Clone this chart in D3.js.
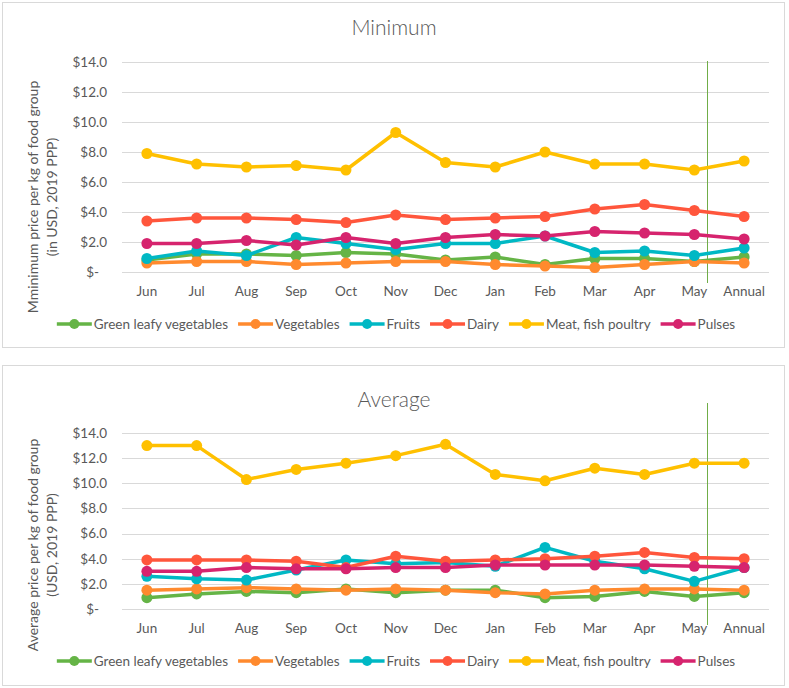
<!DOCTYPE html>
<html>
<head>
<meta charset="utf-8">
<script src="https://cdn.jsdelivr.net/npm/d3@7/dist/d3.min.js"></script>
<style>
  html, body { margin: 0; padding: 0; background: #fff; }
  svg { display: block; font-family: Lato, "Open Sans", sans-serif; }
</style>
</head>
<body>
<svg id="chart" width="789" height="688"></svg>
<script>
const months = ["Jun","Jul","Aug","Sep","Oct","Nov","Dec","Jan","Feb","Mar","Apr","May","Annual"];
const seriesNames = ["Green leafy vegetables","Vegetables","Fruits","Dairy","Meat, fish poultry","Pulses"];
const seriesColors = ["#65B446","#FF8A2E","#00B8C4","#FF563C","#FFC000","#D6246E"];
const yTicks = [0,2,4,6,8,10,12,14];

// Minimum prices
const minGreen  = [0.8,1.2,1.2,1.1,1.3,1.2,0.8,1.0,0.5,0.9,0.9,0.7,1.0];
const minVeg    = [0.6,0.7,0.7,0.5,0.6,0.7,0.7,0.5,0.4,0.3,0.5,0.7,0.6];
const minFruits = [0.9,1.4,1.1,2.3,1.9,1.5,1.9,1.9,2.4,1.3,1.4,1.1,1.6];
const minDairy  = [3.4,3.6,3.6,3.5,3.3,3.8,3.5,3.6,3.7,4.2,4.5,4.1,3.7];
const minMeat   = [7.9,7.2,7.0,7.1,6.8,9.3,7.3,7.0,8.0,7.2,7.2,6.8,7.4];
const minPulses = [1.9,1.9,2.1,1.8,2.3,1.9,2.3,2.5,2.4,2.7,2.6,2.5,2.2];

// Average prices
const avgGreen  = [0.9,1.2,1.4,1.3,1.6,1.3,1.5,1.5,0.9,1.0,1.4,1.0,1.3];
const avgVeg    = [1.5,1.6,1.7,1.6,1.5,1.6,1.5,1.3,1.2,1.5,1.6,1.6,1.5];
const avgFruits = [2.6,2.4,2.3,3.1,3.9,3.6,3.7,3.4,4.9,3.8,3.2,2.2,3.3];
const avgDairy  = [3.9,3.9,3.9,3.8,3.3,4.2,3.8,3.9,4.0,4.2,4.5,4.1,4.0];
const avgMeat   = [13.0,13.0,10.3,11.1,11.6,12.2,13.1,10.7,10.2,11.2,10.7,11.6,11.6];
const avgPulses = [3.0,3.0,3.3,3.2,3.2,3.3,3.3,3.5,3.5,3.5,3.5,3.4,3.3];

const svg = d3.select("#chart");
const textColor = "#595959";

function drawPanel(cfg) {
  const g = svg.append("g");
  g.append("rect")
    .attr("x", cfg.box[0] + 0.5).attr("y", cfg.box[1] + 0.5)
    .attr("width", cfg.box[2]).attr("height", cfg.box[3])
    .attr("fill", "#fff").attr("stroke", "#d9d9d9").attr("stroke-width", 1);

  const x = d3.scaleBand().domain(months).range([122, 769]).padding(0);
  const y = d3.scaleLinear().domain([0, 14]).range([cfg.y0, cfg.y1]);
  const cx = m => x(m) + x.bandwidth() / 2;

  // title
  g.append("text").attr("x", 394).attr("y", cfg.titleY)
    .attr("text-anchor", "middle").attr("fill", textColor)
    .style("font-size", "21px").style("font-weight", 300).text(cfg.title);

  // gridlines
  g.append("g").selectAll("line").data(yTicks).join("line")
    .attr("x1", 122).attr("x2", 769)
    .attr("y1", d => Math.round(y(d)) + 0.5).attr("y2", d => Math.round(y(d)) + 0.5)
    .attr("stroke", "#d9d9d9").attr("stroke-width", 1);

  // y axis
  const yAxis = d3.axisLeft(y).tickValues(yTicks).tickSize(0).tickPadding(0)
    .tickFormat(d => d === 0 ? "$-" : "$" + d.toFixed(1));
  const ya = g.append("g").attr("transform", "translate(107,0)").call(yAxis);
  ya.select(".domain").remove();
  ya.selectAll("text").attr("fill", textColor).style("font-size", "13.5px")
    .style("font-family", "Lato, 'Open Sans', sans-serif")
    .attr("x", d => d === 0 ? -8 : 0);

  // x axis
  const xAxis = d3.axisBottom(x).tickSize(0).tickPadding(0);
  const xa = g.append("g").attr("transform", `translate(0,${cfg.xLabelY})`).call(xAxis);
  xa.select(".domain").remove();
  xa.selectAll("text").attr("fill", textColor).style("font-size", "13.5px")
    .style("font-family", "Lato, 'Open Sans', sans-serif").attr("dy", "0.35em");

  // y-axis title
  const tg = g.append("g").attr("fill", textColor).style("font-size", "14px");
  tg.append("text").attr("transform", `translate(38,${cfg.axTitleY}) rotate(-90)`)
    .attr("text-anchor", "middle").text(cfg.axTitle1);
  tg.append("text").attr("transform", `translate(57,${cfg.axTitleY}) rotate(-90)`)
    .attr("text-anchor", "middle").text(cfg.axTitle2);

  // vertical marker line between May and Annual
  const vx = Math.round(x("May") + x.bandwidth() * 0.75) + 0.5;
  g.append("line").attr("x1", vx).attr("x2", vx)
    .attr("y1", cfg.vLine[0]).attr("y2", cfg.vLine[1])
    .attr("stroke", "#70AD47").attr("stroke-width", 1);

  // series
  const line = d3.line().x((d, i) => cx(months[i])).y(d => y(d));
  cfg.series.forEach((vals, si) => {
    const sg = g.append("g");
    sg.append("path").attr("d", line(vals)).attr("fill", "none")
      .attr("stroke", seriesColors[si]).attr("stroke-width", 3.5)
      .attr("stroke-linejoin", "round").attr("stroke-linecap", "round");
    sg.selectAll("circle").data(vals).join("circle")
      .attr("cx", (d, i) => cx(months[i])).attr("cy", d => y(d))
      .attr("r", 5.5).attr("fill", seriesColors[si]);
  });

  // legend
  const lg = g.append("g").attr("transform", `translate(0,${cfg.legendY})`);
  const items = [];
  let pos = 0;
  seriesNames.forEach((name, i) => {
    const ig = lg.append("g");
    ig.append("line").attr("x1", 0).attr("x2", 35).attr("y1", 0).attr("y2", 0)
      .attr("stroke", seriesColors[i]).attr("stroke-width", 3.5);
    ig.append("circle").attr("cx", 17.5).attr("cy", 0).attr("r", 5).attr("fill", seriesColors[i]);
    const t = ig.append("text").attr("x", 37).attr("y", 0).attr("dy", "0.35em")
      .attr("fill", textColor).style("font-size", "13.5px").text(name);
    const w = t.node().getComputedTextLength();
    items.push({ig, start: pos});
    pos += 37 + w + 10;
  });
  const total = pos - 10;
  const startX = 396 - total / 2;
  items.forEach(it => it.ig.attr("transform", `translate(${startX + it.start},0)`));
}

drawPanel({
  box: [2, 2, 782, 345],
  title: "Minimum", titleY: 35,
  y0: 272, y1: 62, xLabelY: 291,
  axTitle1: "Mminimum price per kg of food group",
  axTitle2: "(in USD, 2019 PPP)",
  axTitleY: 197,
  vLine: [61, 283],
  legendY: 324,
  series: [minGreen, minVeg, minFruits, minDairy, minMeat, minPulses]
});

drawPanel({
  box: [2, 365, 782, 320],
  title: "Average", titleY: 407,
  y0: 609, y1: 433, xLabelY: 628,
  axTitle1: "Average price per kg of food group",
  axTitle2: "(USD, 2019 PPP)",
  axTitleY: 545,
  vLine: [403, 625],
  legendY: 661,
  series: [avgGreen, avgVeg, avgFruits, avgDairy, avgMeat, avgPulses]
});
</script>
</body>
</html>
